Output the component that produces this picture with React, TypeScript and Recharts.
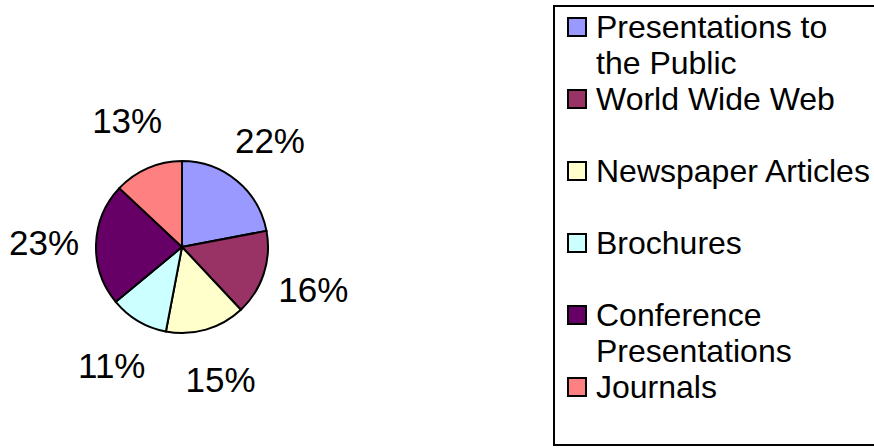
import { PieChart, Pie, Cell, Legend } from 'recharts'

const NAMES = [
  'Presentations to\nthe Public',
  'World Wide Web',
  'Newspaper Articles',
  'Brochures',
  'Conference\nPresentations',
  'Journals',
]
const VALUES = [22, 16, 15, 11, 23, 13]
const COLORS = ['#9999FF', '#993366', '#FFFFCC', '#CCFFFF', '#660066', '#FF8080']

const FONT = '"Liberation Sans", Arial, sans-serif'
const RAD = Math.PI / 180

const data = NAMES.map((name, i) => ({ name, value: VALUES[i] }))
const total = VALUES.reduce((s, v) => s + v, 0)

// percent label sitting outside the slice, centred on its mid angle
function renderLabel(props: any) {
  const { cx, cy, midAngle, outerRadius, value } = props
  const r = outerRadius + 52
  const x = cx + r * Math.cos(-midAngle * RAD)
  const y = cy + r * Math.sin(-midAngle * RAD)
  return (
    <text
      x={x}
      y={y}
      textAnchor="middle"
      dominantBaseline="central"
      fill="#000"
      style={{ fontFamily: FONT, fontSize: 35 }}
    >
      {`${Math.round((value / total) * 100)}%`}
    </text>
  )
}

function renderLegend() {
  return (
    <div
      style={{
        boxSizing: 'border-box',
        width: 330,
        height: 441,
        border: '2px solid #000',
        padding: '2px 0 0 12px',
        background: '#fff',
        fontFamily: FONT,
        fontSize: 32,
        color: '#000',
      }}
    >
      {NAMES.map((name, i) => (
        <div key={name} style={{ display: 'flex', alignItems: 'flex-start', height: 72 }}>
          <div
            style={{
              width: 16,
              height: 16,
              border: '2px solid #000',
              background: COLORS[i],
              marginTop: 8,
              marginRight: 9,
              flexShrink: 0,
            }}
          />
          <div style={{ whiteSpace: 'pre-line', lineHeight: '36px' }}>{name}</div>
        </div>
      ))}
    </div>
  )
}

export default function App() {
  return (
    <div style={{ position: 'absolute', left: 0, top: 0, width: 874, height: 448, background: '#fff' }}>
      <PieChart width={874} height={448} margin={{ top: 0, right: 0, bottom: 0, left: 0 }}>
        <Pie
          data={data}
          dataKey="value"
          nameKey="name"
          cx={182}
          cy={247}
          outerRadius={86}
          startAngle={90}
          endAngle={-270}
          stroke="#000"
          strokeWidth={2}
          label={renderLabel}
          labelLine={false}
          isAnimationActive={false}
        >
          {data.map((d, i) => (
            <Cell key={d.name} fill={COLORS[i]} />
          ))}
        </Pie>
        <Legend
          layout="vertical"
          align="right"
          verticalAlign="top"
          content={renderLegend}
          wrapperStyle={{ left: 553, top: 5, width: 330, height: 441 }}
        />
      </PieChart>
    </div>
  )
}
